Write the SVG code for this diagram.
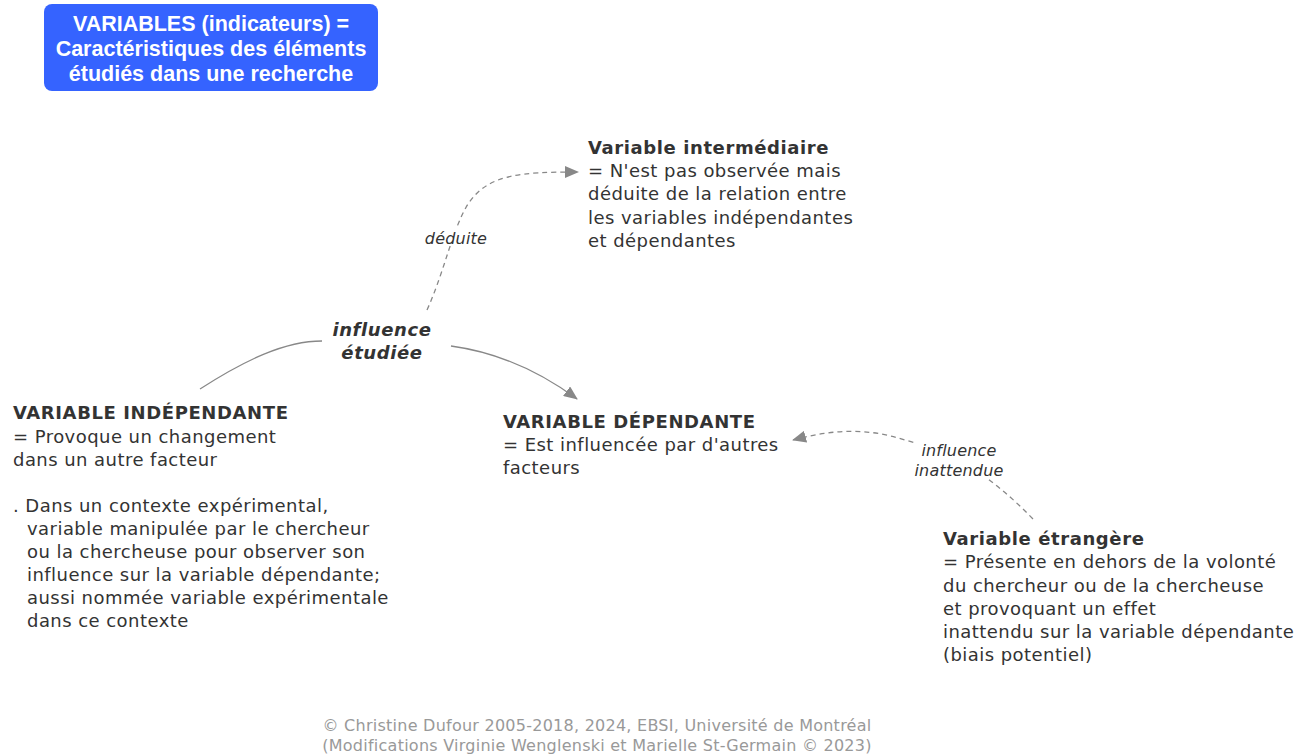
<svg xmlns="http://www.w3.org/2000/svg" width="1307" height="755" viewBox="0 0 1307 755">
<defs>
<marker id="arr" markerWidth="14" markerHeight="12" refX="13" refY="6" orient="auto" markerUnits="userSpaceOnUse" viewBox="0 0 14 12">
<path d="M0,0 L14,6 L0,12 z" fill="#888"/>
</marker>
<style>
.t{font-family:"DejaVu Sans",Verdana,sans-serif;font-size:18px;letter-spacing:0.45px;fill:#333}
.b{font-weight:bold;letter-spacing:0.6px}
.lbl{font-family:"DejaVu Sans",Verdana,sans-serif;font-size:16px;letter-spacing:0.2px;font-style:italic;fill:#333;text-anchor:middle}
.hd{font-family:"Liberation Sans",Arial,sans-serif;font-size:21.5px;font-weight:bold;fill:#fff;text-anchor:middle}
.ft{font-family:"DejaVu Sans",Verdana,sans-serif;font-size:16px;letter-spacing:0.25px;fill:#999;text-anchor:middle}
.c{fill:none;stroke:#888;stroke-width:1.3}
.d{stroke-dasharray:5,4}
</style>
</defs>
<rect width="1307" height="755" fill="#fff"/>
<g id="connectors">
<path class="c" d="M200,389 C245,360 285,341 322,341"/>
<path class="c" d="M451,346 C495,352 535,368 577,399" marker-end="url(#arr)"/>
<path class="c d" d="M427,310 C445,270 452,230 468,204 C488,174 520,172 578,172" marker-end="url(#arr)"/>
<path class="c d" d="M1033,519 C995,480 960,455 905,440 C865,427 830,430 793,440" marker-end="url(#arr)"/>
</g>
<g id="header">
<rect x="44" y="4" width="334" height="87" rx="8" fill="#3563ff"/>
<text class="hd" x="211" y="31">VARIABLES (indicateurs) =</text>
<text class="hd" x="211" y="56">Caractéristiques des éléments</text>
<text class="hd" x="211" y="81">étudiés dans une recherche</text>
</g>
<g id="intermediaire">
<text class="t b" x="588" y="154">Variable intermédiaire</text>
<text class="t" x="588" y="177">= N'est pas observée mais</text>
<text class="t" x="588" y="200">déduite de la relation entre</text>
<text class="t" x="588" y="224">les variables indépendantes</text>
<text class="t" x="588" y="247">et dépendantes</text>
</g>
<g id="influence">
<text class="t b" x="382" y="336" text-anchor="middle" font-style="italic">influence</text>
<text class="t b" x="382" y="359" text-anchor="middle" font-style="italic">étudiée</text>
</g>
<g id="independante">
<text class="t b" x="13" y="419">VARIABLE INDÉPENDANTE</text>
<text class="t" x="13" y="443">= Provoque un changement</text>
<text class="t" x="13" y="466">dans un autre facteur</text>
<text class="t" x="13" y="512">. Dans un contexte expérimental,</text>
<text class="t" x="27" y="535">variable manipulée par le chercheur</text>
<text class="t" x="27" y="558">ou la chercheuse pour observer son</text>
<text class="t" x="27" y="581">influence sur la variable dépendante;</text>
<text class="t" x="27" y="604">aussi nommée variable expérimentale</text>
<text class="t" x="27" y="627">dans ce contexte</text>
</g>
<g id="dependante">
<text class="t b" x="503" y="428">VARIABLE DÉPENDANTE</text>
<text class="t" x="503" y="451">= Est influencée par d'autres</text>
<text class="t" x="503" y="474">facteurs</text>
</g>
<g id="etrangere">
<text class="t b" x="943" y="545">Variable étrangère</text>
<text class="t" x="943" y="568">= Présente en dehors de la volonté</text>
<text class="t" x="943" y="592">du chercheur ou de la chercheuse</text>
<text class="t" x="943" y="615">et provoquant un effet</text>
<text class="t" x="943" y="638">inattendu sur la variable dépendante</text>
<text class="t" x="943" y="661">(biais potentiel)</text>
</g>
<g id="labels">
<rect x="422" y="228" width="68" height="18" fill="#fff"/>
<text class="lbl" x="456" y="244">déduite</text>
<rect x="916" y="442" width="88" height="36" fill="#fff"/>
<text class="lbl" x="959" y="456">influence</text>
<text class="lbl" x="959" y="476">inattendue</text>
</g>
<g id="footer">
<text class="ft" x="597" y="731">© Christine Dufour 2005-2018, 2024, EBSI, Université de Montréal</text>
<text class="ft" x="597" y="751">(Modifications Virginie Wenglenski et Marielle St-Germain © 2023)</text>
</g>
</svg>
